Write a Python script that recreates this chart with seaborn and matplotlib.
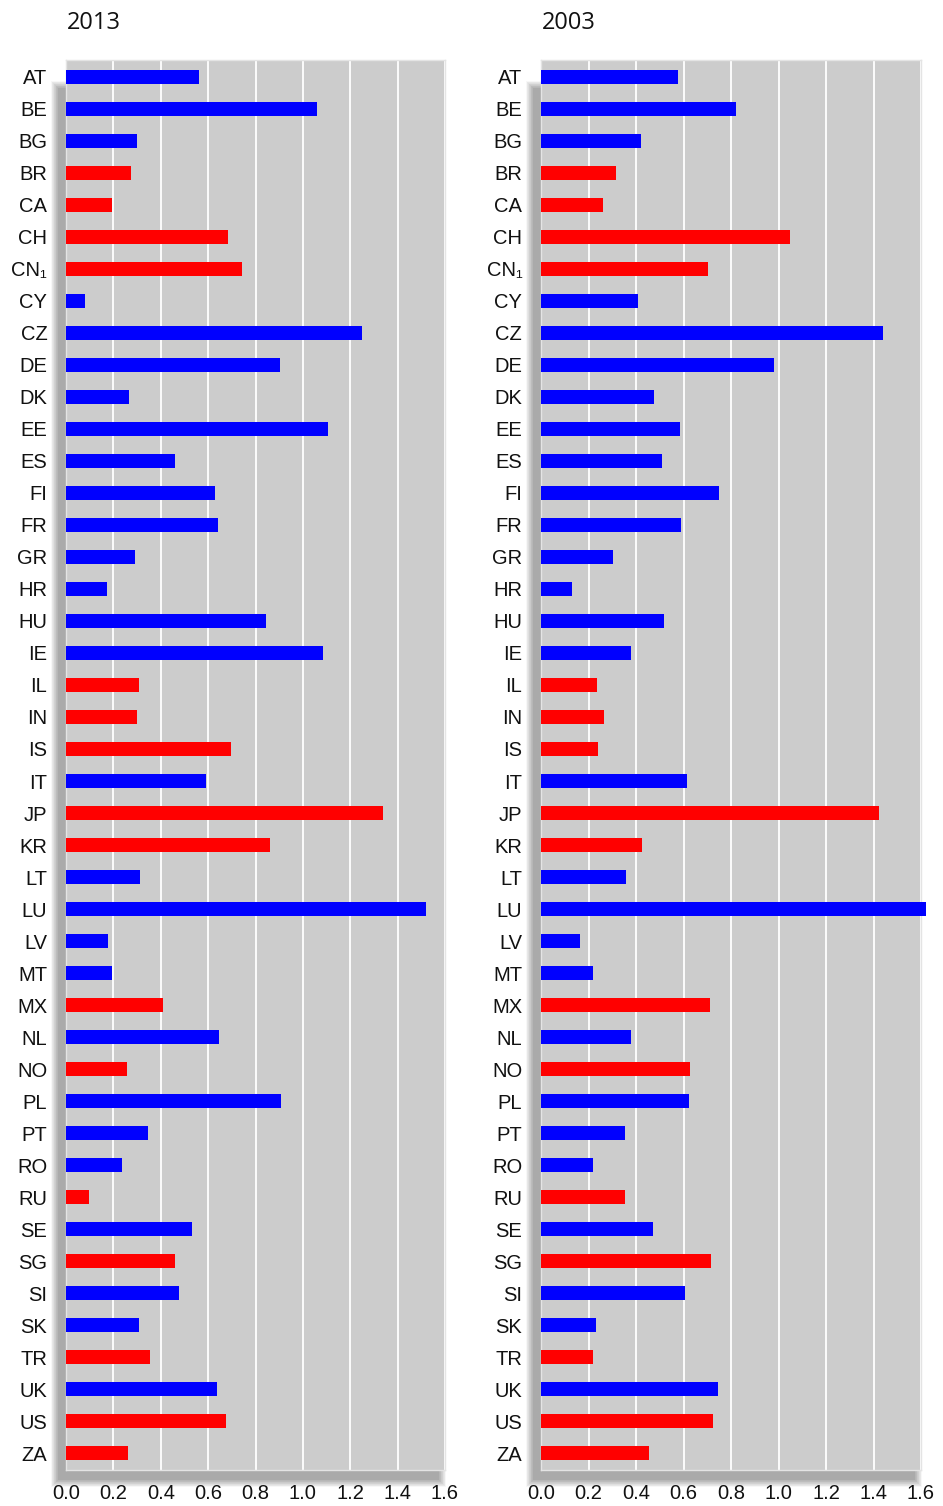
import numpy as np
import pandas as pd
import matplotlib
matplotlib.use("Agg")
import matplotlib.pyplot as plt
from matplotlib.patches import Rectangle
import seaborn as sns

# Données
countries = ["AT", "BE", "BG", "BR", "CA", "CH", "CN\u2081", "CY", "CZ", "DE", "DK", "EE",
             "ES", "FI", "FR", "GR", "HR", "HU", "IE", "IL", "IN", "IS", "IT", "JP",
             "KR", "LT", "LU", "LV", "MT", "MX", "NL", "NO", "PL", "PT", "RO", "RU",
             "SE", "SG", "SI", "SK", "TR", "UK", "US", "ZA"]
groups = ["EU", "EU", "EU", "non", "non", "non", "non", "EU", "EU", "EU", "EU", "EU",
          "EU", "EU", "EU", "EU", "EU", "EU", "EU", "non", "non", "non", "EU", "non",
          "non", "EU", "EU", "EU", "EU", "non", "EU", "non", "EU", "EU", "EU", "non",
          "EU", "non", "EU", "EU", "non", "EU", "non", "non"]
v2013 = [0.56, 1.06, 0.30, 0.275, 0.195, 0.685, 0.745, 0.08, 1.25, 0.905, 0.267, 1.105,
         0.462, 0.631, 0.64, 0.292, 0.174, 0.843, 1.085, 0.309, 0.30, 0.695, 0.593, 1.339,
         0.86, 0.313, 1.521, 0.178, 0.195, 0.41, 0.648, 0.258, 0.907, 0.347, 0.237, 0.097,
         0.534, 0.462, 0.479, 0.309, 0.356, 0.636, 0.674, 0.263]
v2003 = [0.576, 0.822, 0.419, 0.314, 0.263, 1.047, 0.703, 0.407, 1.441, 0.979, 0.475, 0.585,
         0.508, 0.75, 0.589, 0.305, 0.131, 0.517, 0.381, 0.237, 0.267, 0.242, 0.614, 1.424,
         0.424, 0.356, 1.623, 0.165, 0.22, 0.712, 0.381, 0.627, 0.623, 0.352, 0.22, 0.352,
         0.47, 0.716, 0.606, 0.233, 0.22, 0.746, 0.725, 0.453]
years = ["2013", "2003"]
palette = {"EU": "#0000ff", "non": "#ff0000"}

plt.rcParams['font.family'] = ['Liberation Sans', 'DejaVu Sans']
label_font = ['Liberation Sans', 'DejaVu Sans']

W, H = 943, 1506
fig = plt.figure(figsize=(W / 100, H / 100), dpi=100)

# position des zones de tracé (pixels)
panels = [(66, 445), (541, 921)]
top_px, bot_px = 60, 1470


def add_shadow(x0, x1):
    # ombre portée douce en bas à gauche
    dx, dy, blur, n = -7, 9, 8, 12
    for k in range(n):
        grow = blur * (1 - k / n)
        rx0 = x0 + dx - grow
        rx1 = x1 + dx + grow
        ry0 = bot_px + dy + grow
        ry1 = top_px + dy - grow + 20
        fig.patches.append(Rectangle(
            (rx0 / W, 1 - ry0 / H), (rx1 - rx0) / W, (ry0 - ry1) / H,
            transform=fig.transFigure, facecolor="black", alpha=0.03,
            edgecolor="none", zorder=0))


for (x0, x1), year, vals in zip(panels, years, [v2013, v2003]):
    add_shadow(x0, x1)
    ax = fig.add_axes([x0 / W, 1 - bot_px / H, (x1 - x0) / W, (bot_px - top_px) / H])
    ax.set_zorder(5)
    df = pd.DataFrame({"pays": countries, "valeur": vals, "groupe": groups})
    sns.barplot(data=df, x="valeur", y="pays", hue="groupe", palette=palette,
                dodge=False, width=0.42, legend=False, ax=ax, saturation=1)
    for p in ax.patches:
        p.set_clip_on(False)
        p.set_zorder(3)
    ax.set_facecolor("#cccccc")
    ax.set_xlim(0, 1.6)
    ax.set_ylim(len(countries) - 0.47, -0.53)
    xt = np.arange(0, 1.61, 0.2)
    ax.set_xticks(xt)
    ax.set_xticklabels([f"{t:.1f}" for t in xt], family=label_font, fontsize=14.5)
    ax.set_yticks(range(len(countries)))
    ax.set_yticklabels(countries, family=label_font, fontsize=14.5)
    ax.grid(axis="x", color="white", linewidth=1.3, zorder=1)
    ax.set_axisbelow(True)
    ax.tick_params(length=0, colors="#111111")
    ax.tick_params(axis="y", pad=13.5)
    ax.tick_params(axis="x", pad=10)
    ax.set_xlabel("")
    ax.set_ylabel("")
    for s in ax.spines.values():
        s.set_color("#e4e4e4")
        s.set_linewidth(1)
    fig.text((x0 + 1) / W, 1 - 23 / H, year, fontsize=17, family="Open Sans",
             va="center", ha="left", color="#111111")

fig.savefig("out.png", dpi=100)
